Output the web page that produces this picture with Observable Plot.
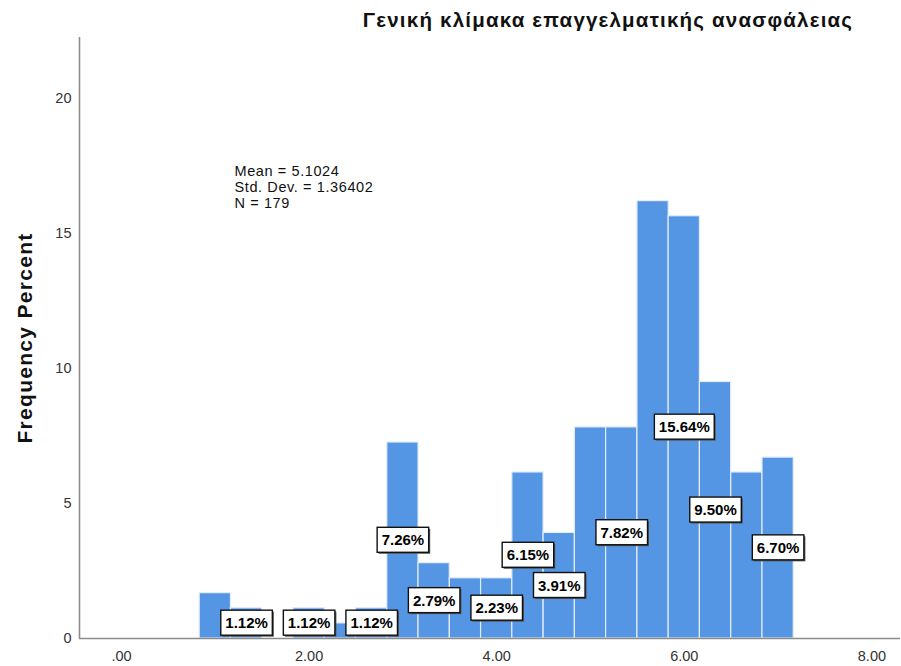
<!DOCTYPE html>
<html>
<head>
<meta charset="utf-8">
<script src="https://cdn.jsdelivr.net/npm/d3@7"></script>
<script src="https://cdn.jsdelivr.net/npm/@observablehq/plot@0.6"></script>
<style>
  html, body { margin: 0; padding: 0; background: #fff; }
  svg { font-family: "Liberation Sans", Arial, sans-serif; }
</style>
</head>
<body>
<div id="chart"></div>
<script>
// ---- data ----
const title = "Γενική κλίμακα επαγγελματικής ανασφάλειας";
const yLabel = "Frequency Percent";
const statsText = ["Mean = 5.1024", "Std. Dev. = 1.36402", "N = 179"];
// bin centres (scale values k/3)
const binCenters = [1.000, 1.333, 1.667, 2.000, 2.333, 2.667, 3.000, 3.333, 3.667, 4.000,
                    4.333, 4.667, 5.000, 5.333, 5.667, 6.000, 6.333, 6.667, 7.000];
const percents   = [1.68, 1.12, 0, 1.12, 0.56, 1.12, 7.26, 2.79, 2.23, 2.23,
                    6.15, 3.91, 7.82, 7.82, 16.20, 15.64, 9.50, 6.15, 6.70];
// bins whose percentage is printed
const labeledBins = [1.333, 2.000, 2.667, 3.000, 3.333, 4.000, 4.333, 4.667, 5.333, 6.000, 6.333, 7.000];
const xTicks = [0, 2, 4, 6, 8];
const xTickLabels = [".00", "2.00", "4.00", "6.00", "8.00"];
const yTicks = [0, 5, 10, 15, 20];
const binWidth = 1 / 3;

const xDomain = [-0.448, 8.305];
const yDomain = [0, 22.26];

const bins = binCenters.map((c, i) => ({c, x1: c - binWidth / 2, x2: c + binWidth / 2, p: percents[i]}));
const labels = bins.filter(d => labeledBins.some(b => Math.abs(b - d.c) < 1e-6));

const chart = Plot.plot({
  width: 901,
  height: 666,
  marginLeft: 79,
  marginRight: 1,
  marginTop: 37,
  marginBottom: 28,
  style: {fontFamily: '"Liberation Sans", Arial, sans-serif', background: "#fff"},
  x: {domain: xDomain, label: null},
  y: {domain: yDomain, label: null},
  marks: [
    Plot.rectY(bins.filter(d => d.p > 0), {x1: "x1", x2: "x2", y: "p", fill: "#5596e4", stroke: "#e3edf9", strokeWidth: 1.2}),
    Plot.ruleY([0], {stroke: "#8c8c8c", strokeWidth: 1.6}),
    Plot.ruleX([xDomain[0]], {stroke: "#8c8c8c", strokeWidth: 1.6}),
    Plot.axisX({ticks: xTicks, tickFormat: d => xTickLabels[xTicks.indexOf(d)], tickSize: 0, tickPadding: 12, fontSize: 14.5, fill: "#333", label: null}),
    Plot.axisY({ticks: yTicks, tickSize: 0, tickPadding: 8, fontSize: 14.5, fill: "#333", label: null}),
    Plot.text(labels, {x: "c", y: d => d.p / 2, text: d => d.p.toFixed(2) + "%", fontWeight: "bold", fontSize: 15, fill: "#000"}),
    Plot.text([statsText.join("\n")], {frameAnchor: "top-left", textAnchor: "start", lineAnchor: "top", dx: 155, dy: 127, fontSize: 14.5, lineHeight: 1.1, fill: "#111"}),
    Plot.text([title], {frameAnchor: "top", textAnchor: "middle", lineAnchor: "middle", dx: 118, dy: -17, fontSize: 20.5, fontWeight: "bold", fill: "#111"}),
    Plot.text([yLabel], {frameAnchor: "left", textAnchor: "middle", lineAnchor: "middle", rotate: -90, dx: -54, fontSize: 21, fontWeight: "bold", fill: "#111"})
  ]
});

document.getElementById("chart").append(chart);

// letter spacing for title / stats / y label (SPSS renders wider)
chart.querySelectorAll("text").forEach(t => {
  const s = t.textContent;
  if (s === title) t.style.letterSpacing = "1.2px";
  else if (s === yLabel) t.style.letterSpacing = "1.3px";
  else if (statsText.some(l => s.startsWith(l))) t.style.letterSpacing = "0.6px";
});

// white boxes behind the percentage labels
const ns = "http://www.w3.org/2000/svg";
chart.querySelectorAll("text").forEach(t => {
  if (!/^\d+\.\d\d%$/.test(t.textContent)) return;
  const bb = t.getBBox();
  const tr = t.getAttribute("transform");
  const padX = 4.5, padY = 4;
  const mk = (dx, dy, fill, stroke) => {
    const r = document.createElementNS(ns, "rect");
    r.setAttribute("x", bb.x - padX + dx);
    r.setAttribute("y", bb.y - padY + dy);
    r.setAttribute("width", bb.width + 2 * padX);
    r.setAttribute("height", bb.height + 2 * padY);
    r.setAttribute("fill", fill);
    if (stroke) { r.setAttribute("stroke", stroke); r.setAttribute("stroke-width", 1.4); }
    if (tr) r.setAttribute("transform", tr);
    return r;
  };
  t.parentNode.insertBefore(mk(1.5, 1.5, "#555"), t);
  t.parentNode.insertBefore(mk(0, 0, "#fff", "#111"), t);
});
</script>
</body>
</html>
